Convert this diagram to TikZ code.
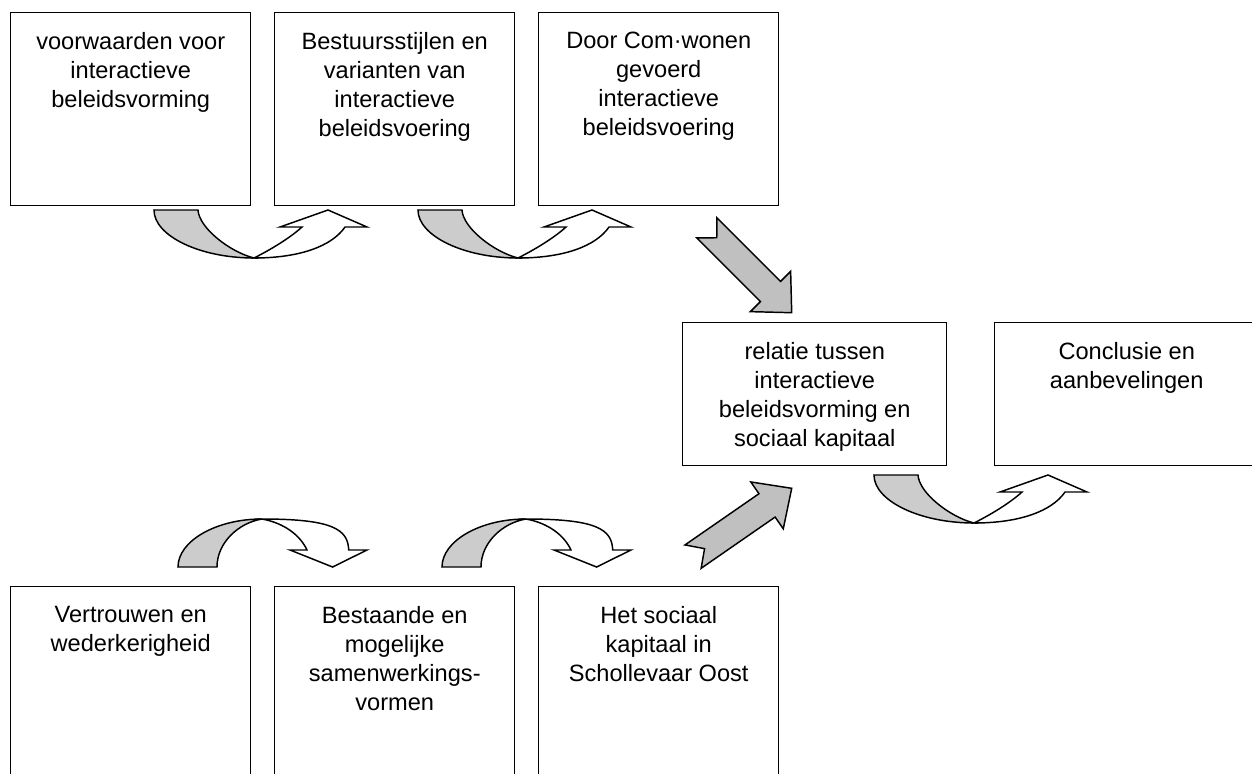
\documentclass[tikz,border=0pt]{standalone}
\usepackage{fontspec}
\setmainfont{Liberation Sans}
\definecolor{arrgray}{RGB}{192,192,192}
\definecolor{curvgray}{RGB}{204,204,204}
\begin{document}
\begin{tikzpicture}[x=0.75pt,y=-0.75pt,
  box/.style={draw, line width=1.1pt, anchor=north west, inner sep=0pt, minimum width=#1},
  txt/.style={anchor=north, inner sep=0pt, align=center, font=\fontsize{17.7pt}{21.75pt}\selectfont},
  blockarr/.style={draw, line width=1.1pt, fill=arrgray},
  curv/.style={draw, line width=1.1pt},
  pics/curvup/.style={code={
    \filldraw[curv, fill=curvgray] (-100,-48) -- (-56,-48) .. controls (-55,-30) and (-24,-6) .. (0,0) .. controls (-54,0) and (-100,-22) .. (-100,-48) -- cycle;
    \filldraw[curv, fill=white] (0,0) .. controls (16,-8) and (36,-20) .. (48,-31) -- (26,-31) -- (74,-48) -- (113,-31) -- (91,-31) .. controls (78,-12) and (46,0) .. (0,0) -- cycle;
  }},
  pics/curvdown/.style={code={
    \filldraw[curv, fill=curvgray] (-84,48) -- (-45,48) .. controls (-45,24) and (-24,4) .. (0,0) .. controls (-46,0) and (-84,22) .. (-84,48) -- cycle;
    \filldraw[curv, fill=white] (0,0) .. controls (22,4) and (38,16) .. (45,31) -- (28,31) -- (70.6,48) -- (105,31) -- (86.7,31) .. controls (86,10) and (70,0) .. (0,0) -- cycle;
  }}
]
\useasboundingbox (0,0) rectangle (1252,774);
\clip (0,0) rectangle (1252,774);

% top row
\node[box=180pt, minimum height=144.75pt] (b1) at (10,12) {};
\node[box=180pt, minimum height=144.75pt] (b2) at (274,12) {};
\node[box=180pt, minimum height=144.75pt] (b3) at (538,12) {};
\node[txt] (t1) at ([yshift=-15pt]b1.north) {voorwaarden voor\\interactieve\\beleidsvorming};
\node[txt] (t2) at ([yshift=-15pt]b2.north) {Bestuursstijlen en\\varianten van\\interactieve\\beleidsvoering};
\node[txt] (t3) at ([yshift=-15pt]b3.north) {Door Com·wonen\\gevoerd\\interactieve\\beleidsvoering};

% middle row
\node[box=198pt, minimum height=107.25pt] (b4) at (682,322) {};
\node[box=198pt, minimum height=107.25pt] (b5) at (994,322) {};
\node[txt] (t4) at ([yshift=-15pt]b4.north) {relatie tussen\\interactieve\\beleidsvorming en\\sociaal kapitaal};
\node[txt] (t5) at ([yshift=-15pt]b5.north) {Conclusie en\\aanbevelingen};

% bottom row
\node[box=180pt, minimum height=160.5pt] (b6) at (10,586) {};
\node[box=180pt, minimum height=160.5pt] (b7) at (274,586) {};
\node[box=180pt, minimum height=160.5pt] (b8) at (538,586) {};
\node[txt] (t6) at ([yshift=-15pt]b6.north) {Vertrouwen en\\wederkerigheid};
\node[txt] (t7) at ([yshift=-15pt]b7.north) {Bestaande en\\mogelijke\\samenwerkings-\\vormen};
\node[txt] (t8) at ([yshift=-15pt]b8.north) {Het sociaal\\kapitaal in\\Schollevaar Oost};

% curved arrows
\pic at (254,258) {curvup};
\pic at (518,258) {curvup};
\pic at (974,523) {curvup};
\pic at (262,519) {curvdown};
\pic at (526,519) {curvdown};

% straight block arrows
\draw[blockarr, shift={(791.7,312.7)}, rotate=-45] (0,0) -- (-30,28.5) -- (-30,14.2) -- (-120,14.2) -- (-106,0) -- (-120,-14.2) -- (-30,-14.2) -- (-30,-28.5) -- cycle;
\draw[blockarr, shift={(791.7,488.3)}, rotate=34.7] (0,0) -- (-30,28.5) -- (-30,14.2) -- (-120,14.2) -- (-106,0) -- (-120,-14.2) -- (-30,-14.2) -- (-30,-28.5) -- cycle;
\end{tikzpicture}
\end{document}
